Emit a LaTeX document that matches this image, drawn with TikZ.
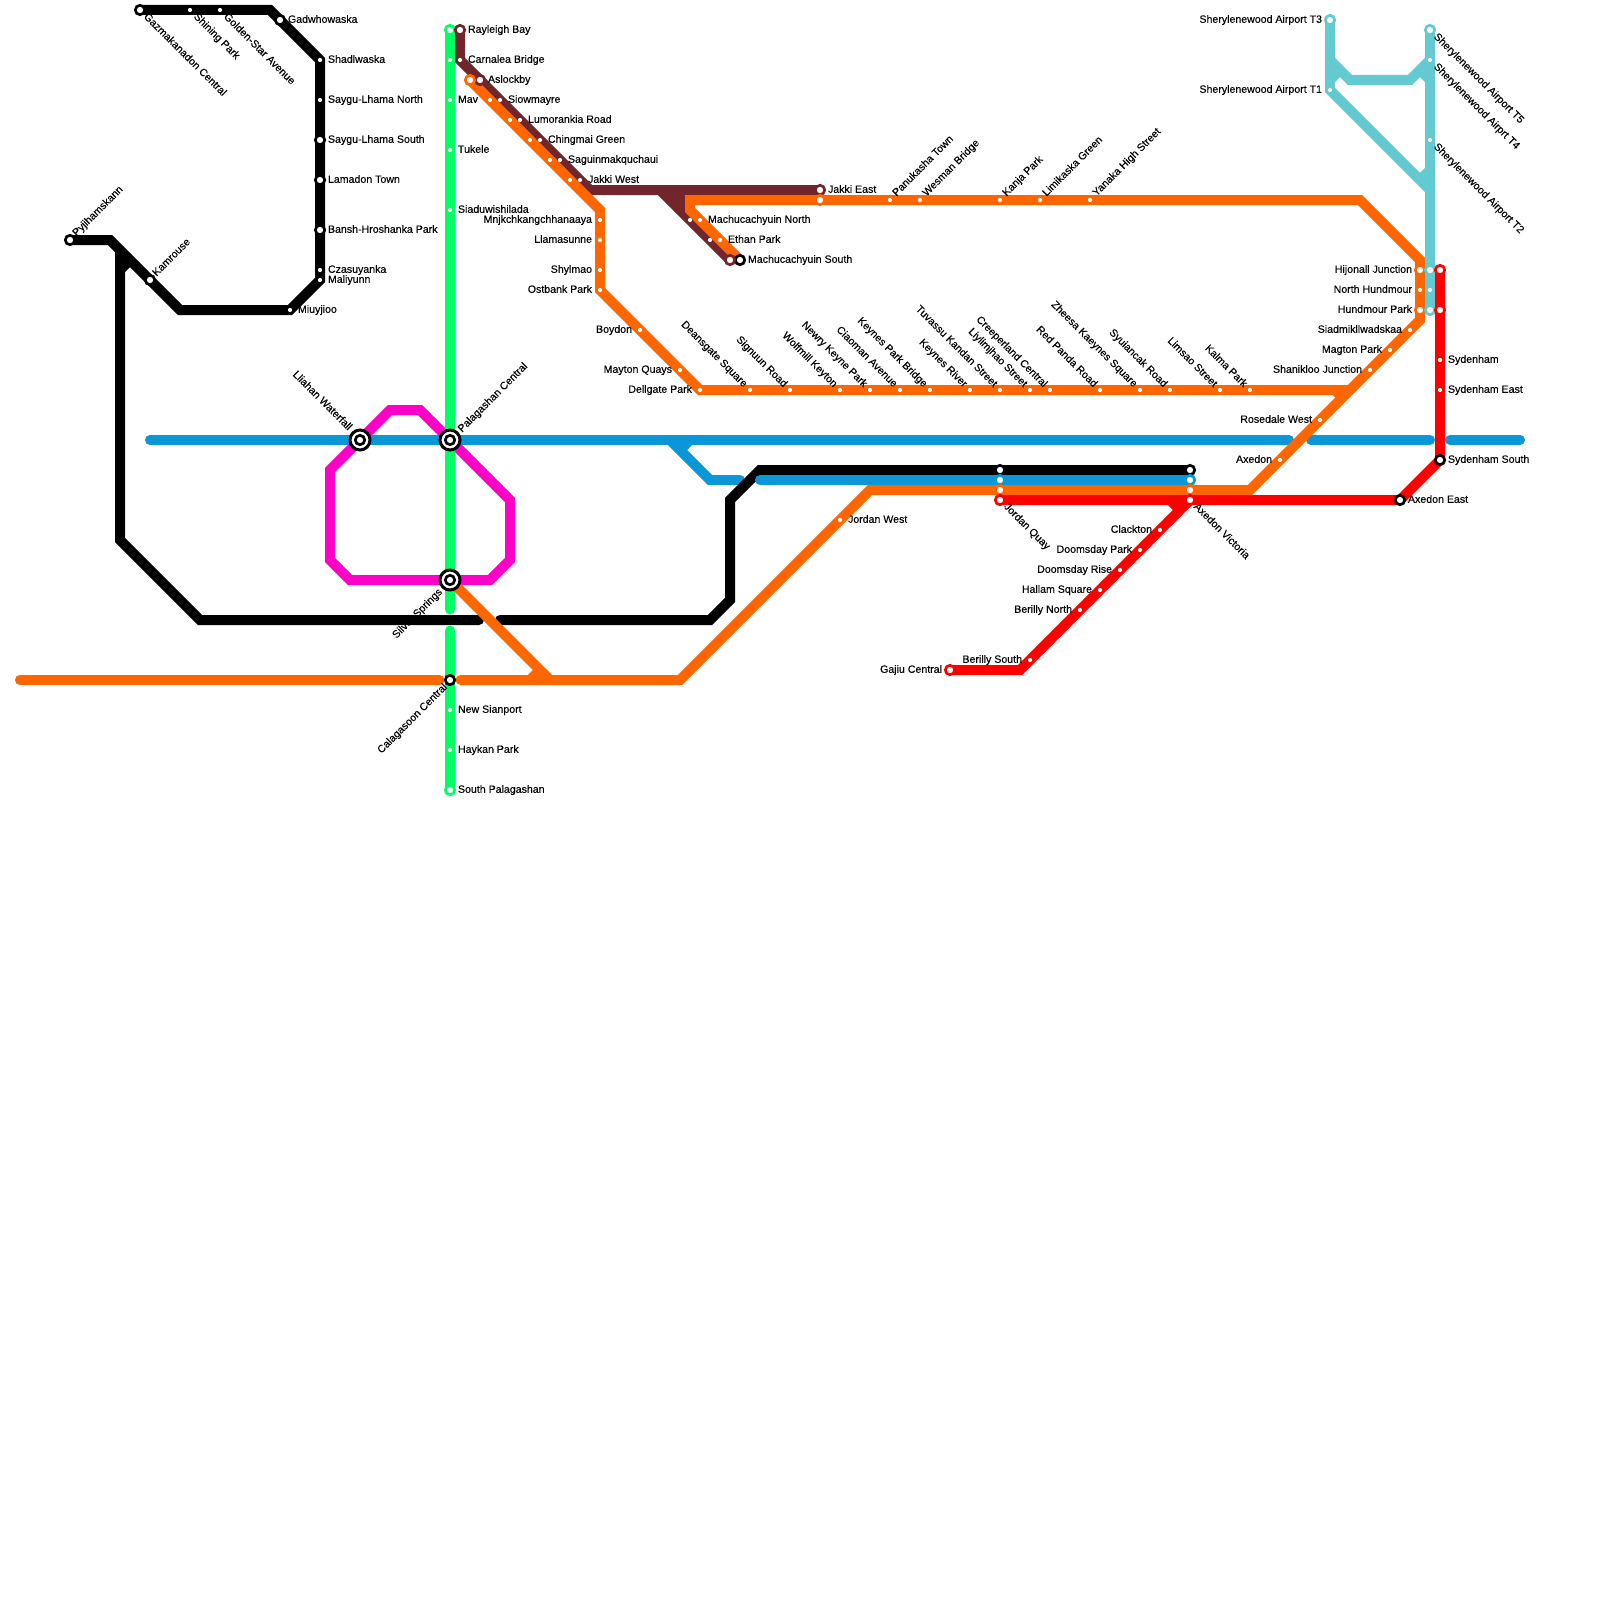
\documentclass[tikz,border=0pt]{standalone}
\usepackage{fontspec}
\setmainfont[FakeBold=0.2]{Liberation Sans}
\definecolor{cblue}{HTML}{0A96D7}
\definecolor{cgreen}{HTML}{00FF66}
\definecolor{cmag}{HTML}{FF00C8}
\definecolor{corange}{HTML}{FF6600}
\definecolor{cbrown}{HTML}{72262B}
\definecolor{ccyan}{HTML}{64CAD2}
\definecolor{cred}{HTML}{FF0000}
\tikzset{
  metro/.style={line width=5pt,line join=miter,miter limit=10,line cap=butt,draw=#1},
  metrocap/.style={line width=5pt,line join=miter,miter limit=10,line cap=round,draw=#1},
  dotst/.style={circle,fill=white,inner sep=0pt,outer sep=0pt,minimum size=2.1pt},
  midst/.style={circle,fill=white,draw=#1,line width=1.35pt,inner sep=0pt,outer sep=0pt,minimum size=4.7pt},
  hubouter/.style={circle,fill=white,draw=black,line width=1.5pt,inner sep=0pt,outer sep=0pt,minimum size=10pt},
  lab/.style={inner sep=0pt,outer sep=0pt,text height=3.8pt,text depth=0pt,font=\fontsize{5.3pt}{5.3pt}\selectfont,text=black},
  lr/.style={lab,anchor=west,xshift=4pt,yshift=0.5pt},
  ll/.style={lab,anchor=east,xshift=-4pt,yshift=0.5pt},
  lur/.style={lab,anchor=west,xshift=2pt,yshift=3pt,rotate=45},
  ldr/.style={lab,anchor=west,xshift=3pt,yshift=-2.3pt,rotate=-45},
  lul/.style={lab,anchor=east,xshift=-2pt,yshift=2.5pt,rotate=-45},
  ldl/.style={lab,anchor=east,xshift=-2pt,yshift=-2.5pt,rotate=45},
}
\begin{document}
\begin{tikzpicture}[x=0.5pt,y=-0.5pt]
\useasboundingbox (0,0) rectangle (1600,1600);
% --- stations and corners
\foreach \n/\x/\y in {
 gaz/140/10,shi/190/10,gol/220/10,ka/270/10,gad/280/20,sha/320/60,sn/320/100,ss/320/140,lam/320/180,ban/320/230,cza/320/270,mal/320/280,miu/290/310,kb/180/310,kam/150/280,kc/110/240,pyj/70/240,
 bj/120/250,bk/120/540,bl/200/620,bm/479/620,bn/500/620,bo/710/620,bp/730/600,bq/730/500,br/760/470,jq1/1000/470,av1/1190/470,bs1/120/270,bs2/130/260,
 ba/150/440,lia/360/440,pal/450/440,bb/670/440,bc/1289/440,bd/1311/440,be/1430/440,bf/1450/440,bg/1520/440,bh/710/480,bi/740/480,bt/760/480,jq2/1000/480,av2/1190/480,bu1/680/450,bu2/690/440,
 m1/390/410,m2/420/410,m3/510/500,m4/510/560,m5/490/580,sil/450/580,m6/350/580,m7/330/560,m8/330/470,
 g1/450/30,g2/450/60,mav/450/100,tuk/450/150,sia/450/210,g3/450/609.5,g4/450/630.5,cal/450/680,nsi/450/710,hay/450/750,spa/450/790,
 ray/460/30,car/460/60,asl/480/80,sio/500/100,lum/520/120,chi/540/140,sag/560/160,jw/580/180,r1/590/190,jke/820/190,r2/660/190,r3/690/190,mn/690/220,eth/710/240,ms/730/260,
 o1/470/80,o2/490/100,o3/510/120,o4/530/140,o5/550/160,o6/570/180,o7/600/210,mnj/600/220,lla/600/240,shy/600/270,ost/600/290,boy/640/330,may/680/370,del/700/390,
 dea/750/390,sig/790/390,wol/840/390,new/870/390,cia/900/390,kpb/930/390,kr/970/390,tuv/1000/390,liy/1030/390,cre/1050/390,red/1100/390,zhe/1140/390,syu/1170/390,lim/1220/390,kal/1250/390,o8/1350/390,o9/1335/390,o10/1345/400,
 p1/20/680,p2/439.5/680,p3/460.5/680,p4/680/680,jow/840/520,p5/870/490,jq3/1000/490,av3/1190/490,p6/1250/490,axe/1280/460,ros/1320/420,sha2/1370/370,mag/1390/350,sia2/1410/330,p7/1420/320,hp1/1420/310,nh1/1420/290,hj1/1420/270,p8/1420/260,p9/1360/200,yan/1090/200,lik/1040/200,kan/1000/200,wes/920/200,pan/890/200,p10/820/200,p11/690/200,p12/690/210,o21/700/220,o22/720/240,mso/740/260,
 p13/550/680,p14/530/680,p15/540/670,
 t3/1330/20,c1/1330/60,c2/1350/80,c3/1410/80,t4/1430/60,t1/1330/90,c4/1430/190,t5/1430/30,t2/1430/140,hj2/1430/270,nh2/1430/290,hp2/1430/310,c5/1330/80,c6/1340/70,c7/1420/70,c8/1430/80,c9/1420/180,c10/1430/170,
 gaj/950/670,d1/1020/670,bes/1030/660,ben/1080/610,hal/1100/590,dri/1120/570,dpa/1140/550,cla/1160/530,av4/1190/500,jq4/1000/500,aea/1400/500,sso/1440/460,sye/1440/390,syd/1440/360,hp3/1440/310,hj3/1440/270,d2/1170/500,d3/1180/510}
 {\coordinate (\n) at (\x,\y);}
% --- lines
\draw[metrocap=cblue] (ba)--(bc);
\draw[metrocap=cblue] (bd)--(be);
\draw[metrocap=cblue] (bf)--(bg);
\draw[metrocap=cblue] (bb)--(bh)--(bi);
\draw[metro=cblue] (bu1)--(bu2);
\draw[metro=black] (gaz)--(ka)--(sha)--(mal)--(miu)--(kb)--(kc)--(pyj);
\draw[metrocap=black] (bn)--(bo)--(bp)--(bq)--(br)--(av1);
\draw[metrocap=black] (bm)--(bl)--(bk)--(bj);
\draw[metro=black] (bs1)--(bs2);
\draw[metrocap=cblue] (bt)--(av2);
\draw[metro=cmag] (lia)--(m1)--(m2)--(pal)--(m3)--(m4)--(m5)--(m6)--(m7)--(m8)--cycle;
\draw[metrocap=cgreen] (g1)--(g3);
\draw[metrocap=cgreen] (g4)--(spa);
\fill[cbrown] (r2)--(r3)--(mn)--cycle;
\draw[metro=cbrown] (ray)--(car)--(r1)--(jke);
\draw[metro=cbrown] (r2)--(ms);
\draw[metro=corange] (o1)--(o7)--(ost)--(del)--(o8);
\draw[metro=corange] (o9)--(o10);
\draw[metrocap=corange] (p1)--(p2);
\draw[metrocap=corange] (p3)--(p4)--(p5)--(p6)--(p7)--(p8)--(p9)--(p11)--(p12)--(mso);
\draw[metro=corange] (sil)--(p13);
\draw[metro=corange] (p14)--(p15);
\draw[metro=ccyan] (t3)--(t1)--(c4);
\draw[metro=ccyan] (t5)--(hp2);
\draw[metro=ccyan] (c1)--(c2)--(c3)--(t4);
\draw[metro=ccyan] (c5)--(c6);
\draw[metro=ccyan] (c7)--(c8);
\draw[metro=ccyan] (c9)--(c10);
\draw[metro=cred] (gaj)--(d1)--(av4);
\draw[metro=cred] (jq4)--(aea)--(sso)--(hj3);
\draw[metro=cred] (d2)--(d3);
% --- small stations
\foreach \n in {shi,gol,sha,sn,cza,mal,miu,g2,mav,tuk,sia,nsi,hay,car,sio,lum,chi,sag,jw,mn,eth,o2,o3,o4,o5,o6,mnj,lla,shy,ost,boy,may,del,dea,sig,wol,new,cia,kpb,kr,tuv,liy,cre,red,zhe,syu,lim,kal,jow,axe,ros,sha2,mag,sia2,nh1,yan,lik,kan,wes,pan,o21,o22,t4,t1,t2,nh2,bes,ben,hal,dri,dpa,cla,sye,syd}
 {\node[dotst] (s\n) at (\n) {};}
% --- ringed stations
\foreach \n/\c in {gaz/black,gad/black,ss/black,lam/black,ban/black,kam/black,pyj/black,cal/black,mso/black,aea/black,sso/black,jq1/black,av1/black,jq2/cblue,av2/cblue,g1/cgreen,spa/cgreen,ray/cbrown,asl/cbrown,jke/cbrown,ms/cbrown,o1/corange,p10/corange,hj1/corange,hp1/corange,jq3/corange,av3/corange,t3/ccyan,t5/ccyan,hj2/ccyan,hp2/ccyan,jq4/cred,av4/cred,gaj/cred,hj3/cred,hp3/cred}
 {\node[midst=\c] (s\n) at (\n) {};}
% --- interchanges
\foreach \n in {lia,pal,sil}{
 \node[hubouter] (h\n) at (\n) {};
 \node[midst=black] (s\n) at (\n) {};
}
% --- labels
\foreach \n/\t in {gad/Gadwhowaska,sha/Shadlwaska,sn/Saygu-Lhama North,ss/Saygu-Lhama South,lam/Lamadon Town,ban/Bansh-Hroshanka Park,cza/Czasuyanka,mal/Maliyunn,miu/Miuyjioo,ray/Rayleigh Bay,car/Carnalea Bridge,asl/Aslockby,sio/Siowmayre,lum/Lumorankia Road,chi/Chingmai Green,sag/Saguinmakquchaui,jw/Jakki West,mav/Mav,tuk/Tukele,sia/Siaduwishilada,nsi/New Sianport,hay/Haykan Park,spa/South Palagashan,jke/Jakki East,o21/Machucachyuin North,o22/Ethan Park,mso/Machucachyuin South,jow/Jordan West,syd/Sydenham,sye/Sydenham East,sso/Sydenham South,aea/Axedon East}
 {\node[lr] (l\n) at (\n) {\t};}
\foreach \n/\t in {mnj/Mnjkchkangchhanaaya,lla/Llamasunne,shy/Shylmao,ost/Ostbank Park,boy/Boydon,may/Mayton Quays,del/Dellgate Park,t3/Sherylenewood Airport T3,t1/Sherylenewood Airport T1,hj1/Hijonall Junction,nh1/North Hundmour,hp1/Hundmour Park,sia2/Siadmikllwadskaa,mag/Magton Park,sha2/Shanikloo Junction,ros/Rosedale West,axe/Axedon,cla/Clackton,dpa/Doomsday Park,dri/Doomsday Rise,hal/Hallam Square,ben/Berilly North,bes/Berilly South,gaj/Gajiu Central}
 {\node[ll] (l\n) at (\n) {\t};}
\foreach \n/\t in {pyj/Pyjihamskann,kam/Kamrouse,pan/Panukasha Town,wes/Wesman Bridge,kan/Kanja Park,lik/Limikaska Green,yan/Yanaka High Street}
 {\node[lur] (l\n) at (\n) {\t};}
\foreach \n/\t in {gaz/Gazmakanadon Central,shi/Shining Park,gol/Golden-Star Avenue,t5/Sherylenewood Airport T5,t4/Sherylenewood Airprt T4,t2/Sherylenewood Airport T2,jq4/Jordan Quay,av4/Axedon Victoria}
 {\node[ldr] (l\n) at (\n) {\t};}
\foreach \n/\t in {dea/Deansgate Square,sig/Signuun Road,wol/Wolfmill Keyton,new/Newry Keyne Park,cia/Ciaoman Avenue,kpb/Keynes Park Bridge,kr/Keynes River,tuv/Tuvassu Kandan Street,liy/Liylimjhao Street,cre/Creeperland Central,red/Red Panda Road,zhe/Zheesa Kaeynes Square,syu/Syuiancak Road,lim/Limsao Street,kal/Kalma Park}
 {\node[lul] (l\n) at (\n) {\t};}
\node[lab,anchor=east,xshift=-4.7pt,yshift=6pt,rotate=-45] (llia) at (lia) {Lliahan Waterfall};
\node[lab,anchor=west,xshift=4.7pt,yshift=5pt,rotate=45] (lpal) at (pal) {Palagashan Central};
\node[lab,anchor=east,xshift=-5pt,yshift=-5pt,rotate=45] (lsil) at (sil) {Silver Springs};
\node[lab,anchor=east,xshift=-2.5pt,yshift=-2.5pt,rotate=45] (lcal) at (cal) {Calagasoon Central};
\end{tikzpicture}
\end{document}
